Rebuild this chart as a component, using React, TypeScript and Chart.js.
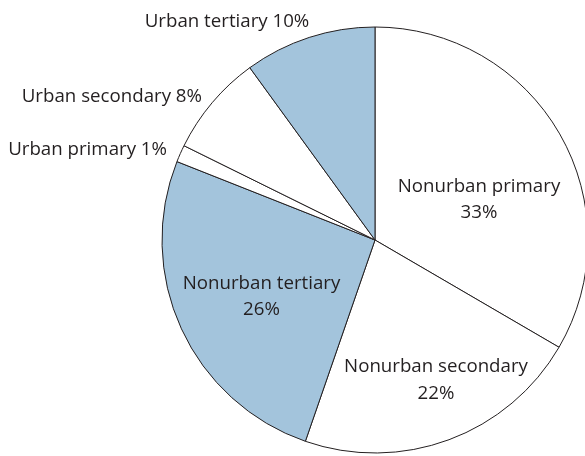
import React, { useEffect, useRef } from 'react';
import { Chart, registerables } from 'chart.js';

Chart.register(...registerables);

// ---- data ----
const categories = [
  'Nonurban primary',
  'Nonurban secondary',
  'Nonurban tertiary',
  'Urban primary',
  'Urban secondary',
  'Urban tertiary',
];
const shares = [33.4, 21.9, 25.7, 1.3, 7.7, 10.0];

// ---- styles ----
const WHITE = '#ffffff';
const BLUE = '#a3c4dc';
const sliceColors = [WHITE, WHITE, BLUE, WHITE, WHITE, BLUE];
const TEXT = '#231f20';
const FONT = '18.7px "Open Sans"';

// label placement relative to pie centre (px); inside labels split over two lines
type Layout = { dx: number; dy: number[]; align: CanvasTextAlign; split: boolean };
const labelLayout: Layout[] = [
  { dx: 104, dy: [-47.8, -22.3], align: 'center', split: true },
  { dx: 61, dy: [131.7, 158.7], align: 'center', split: true },
  { dx: -113.5, dy: [49.2, 74.7], align: 'center', split: true },
  { dx: -208, dy: [-85.3], align: 'right', split: false },
  { dx: -173, dy: [-138.3], align: 'right', split: false },
  { dx: -148, dy: [-212.8], align: 'center', split: false },
];

const labelPlugin = {
  id: 'sliceLabels',
  afterDatasetsDraw(chart: any) {
    const meta = chart.getDatasetMeta(0);
    const arc = meta.data[0];
    if (!arc) return;
    const cx = arc.x;
    const cy = arc.y;
    const ctx = chart.ctx;
    ctx.save();
    ctx.font = FONT;
    ctx.fillStyle = TEXT;
    ctx.textBaseline = 'alphabetic';
    categories.forEach((cat, i) => {
      const lay = labelLayout[i];
      const pct = `${Math.round(shares[i])}%`;
      ctx.textAlign = lay.align;
      if (lay.split) {
        ctx.fillText(cat, cx + lay.dx, cy + lay.dy[0]);
        ctx.fillText(pct, cx + lay.dx, cy + lay.dy[1]);
      } else {
        ctx.fillText(`${cat} ${pct}`, cx + lay.dx, cy + lay.dy[0]);
      }
    });
    ctx.restore();
  },
};

export default function App() {
  const ref = useRef<HTMLCanvasElement | null>(null);
  useEffect(() => {
    if (!ref.current) return;
    const chart = new Chart(ref.current, {
      type: 'pie',
      data: {
        labels: categories,
        datasets: [
          {
            data: shares,
            backgroundColor: sliceColors,
            borderColor: TEXT,
            borderWidth: 1,
          },
        ],
      },
      options: {
        animation: false,
        responsive: false,
        radius: 213,
        layout: { padding: { left: 162, right: 12, top: 27, bottom: 17 } },
        plugins: {
          legend: { display: false },
          tooltip: { enabled: false },
        },
      } as any,
      plugins: [labelPlugin],
    });
    return () => chart.destroy();
  }, []);
  return (
    <div
      style={{
        position: 'absolute',
        left: 0,
        top: 0,
        width: 585,
        height: 456,
        overflow: 'hidden',
        background: '#ffffff',
      }}
    >
      <canvas ref={ref} width={600} height={470} style={{ display: 'block' }} />
    </div>
  );
}
